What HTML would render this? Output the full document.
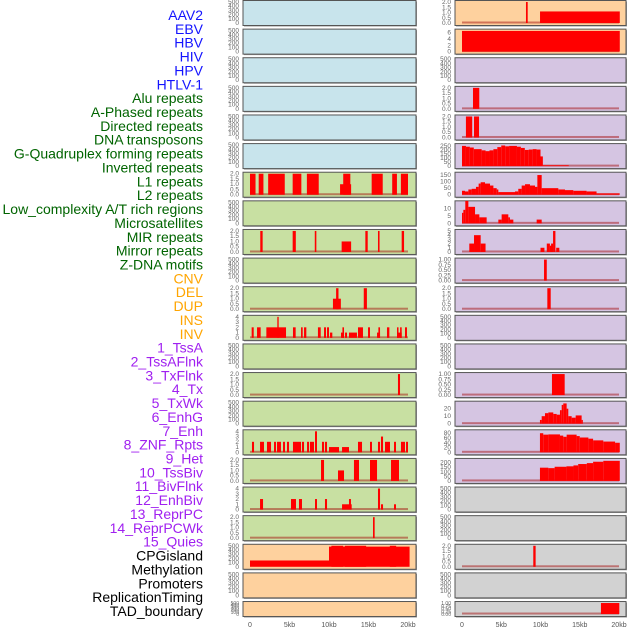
<!DOCTYPE html>
<html><head><meta charset="utf-8">
<style>
html,body{margin:0;padding:0;background:#fff;width:630px;height:630px;overflow:hidden}
svg{display:block}
</style></head>
<body>
<svg id="chart" width="630" height="630" xmlns="http://www.w3.org/2000/svg"></svg>
<script>
// ---- data ----
const trackLabels = ["AAV2","EBV","HBV","HIV","HPV","HTLV-1","Alu repeats","A-Phased repeats","Directed repeats","DNA transposons","G-Quadruplex forming repeats","Inverted repeats","L1 repeats","L2 repeats","Low_complexity A/T rich regions","Microsatellites","MIR repeats","Mirror repeats","Z-DNA motifs","CNV","DEL","DUP","INS","INV","1_TssA","2_TssAFlnk","3_TxFlnk","4_Tx","5_TxWk","6_EnhG","7_Enh","8_ZNF_Rpts","9_Het","10_TssBiv","11_BivFlnk","12_EnhBiv","13_ReprPC","14_ReprPCWk","15_Quies","CPGisland","Methylation","Promoters","ReplicationTiming","TAD_boundary"];
const labelGroups = ["virus","virus","virus","virus","virus","virus","repeat","repeat","repeat","repeat","repeat","repeat","repeat","repeat","repeat","repeat","repeat","repeat","repeat","sv","sv","sv","sv","sv","state","state","state","state","state","state","state","state","state","state","state","state","state","state","state","other","other","other","other","other"];
const xTickLabels = ["0","5kb","10kb","15kb","20kb"];
const xTickValues = [0,5,10,15,20];

// left column panels: background group, y max, tick values, bars [startKb,endKb,value]
const leftBg = ["blue","blue","blue","blue","blue","blue","green","green","green","green","green","green","green","green","green","green","green","green","green","orange","orange","orange"];
const leftYmax = [500,500,500,500,500,500,2,500,2,500,2,4,500,2,500,4,2,4,2,500,500,500];
const leftBars = [
 [],[],[],[],[],[],
 [[0,0.7,2],[1.1,1.7,2],[2.3,4.4,2],[5.4,6.5,2],[7.2,8.7,2],[11.4,12.8,1],[11.8,12.7,2],[15.4,16.8,2],[18,18.6,2],[19.1,20,2]],
 [],
 [[1.3,1.6,2],[5.4,5.8,2],[8.2,8.4,2],[11.6,12.8,1],[14.6,14.9,2],[16.2,16.4,2],[19.2,19.5,2]],
 [],
 [[10.5,11.5,1],[10.9,11.2,2],[14.4,14.8,2]],
 [[0.21,0.47,2],[0.89,1.35,2],[2.07,4.56,2],[3.46,3.63,4],[5.44,5.78,2],[6.46,6.67,2],[6.84,7.13,2],[8.6,8.95,2],[9.37,9.62,2],[9.75,10.0,2],[10.13,10.42,1],[11.52,11.9,1],[11.7,11.9,2],[12.03,12.28,1],[12.53,13.54,1],[13.67,14.3,2],[14.94,15.19,2],[16.08,16.46,1],[16.25,16.46,2],[17.34,17.64,2],[18.61,19.2,1],[18.61,18.8,2],[19.0,19.2,2],[19.62,19.87,2]],
 [],
 [[18.73,18.99,2]],
 [],
 [[0.25,0.51,2],[1.27,1.77,2],[2.15,2.66,2],[3.04,3.29,2],[3.42,3.92,2],[4.18,4.43,2],[4.68,4.94,2],[5.44,6.46,2],[6.58,6.84,2],[7.22,7.47,2],[7.59,8.1,2],[8.23,8.48,4],[9.11,9.37,2],[9.49,9.75,2],[10.0,11.27,1],[11.65,12.53,1],[13.67,14.18,2],[15.19,15.44,2],[16.2,16.46,2],[16.58,16.84,3],[17.09,17.34,2],[17.34,17.72,2],[18.23,18.48,2],[19.11,19.62,2],[19.75,20.0,2]],
 [[8.99,9.37,2],[11.14,11.9,1],[13.16,13.8,2],[15.19,16.08,2],[17.85,18.86,2]],
 [[1.27,1.65,2],[5.19,5.82,2],[6.2,6.58,2],[8.23,8.48,2],[9.49,9.75,2],[11.65,12.87,1],[12.53,12.78,2],[16.2,16.46,4],[16.58,16.84,1],[18.23,18.48,1]],
 [[15.57,15.78,2]],
 [[0,10,150],[10,20.2,480],[10.3,11.8,500],[12.0,14.7,500],[17.7,18.5,500]],
 [],[]
];

// right column panels
const rightBg = ["orange","orange","purple","purple","purple","purple","purple","purple","purple","purple","purple","purple","purple","purple","purple","purple","purple","gray","gray","gray","gray","gray"];
const rightYmax = [2,6.6,500,2,2,260,160,14,5,1,2,500,500,1,28,88,230,500,500,2,500,1];
const rightTickStep = [0.5,2,100,0.5,0.5,50,50,5,1,0.25,0.5,100,100,0.25,10,20,50,100,100,0.5,100,0.25];
const rightBars = [
 [[8.15,8.37,2],[9.94,20.1,1.1]],
 [[0,20.1,6.5]],
 [],
 [[1.4,2.2,2]],
 [[0.5,1.3,2],[1.53,2.17,2]],
 [[0,0.5,250],[0.5,1,240],[1,1.5,230],[1.5,2.5,210],[2.5,3,195],[3,3.5,185],[3.5,4,195],[4,4.5,210],[4.5,5,235],[5,5.5,255],[5.5,6,245],[6,7,250],[7,7.5,240],[7.5,8,225],[8,8.5,200],[8.5,9,205],[9,9.5,210],[9.5,10,205],[10,10.3,120],[10.3,13.6,10]],
 [[0,0.38,30],[0.38,0.81,25],[0.81,1.23,40],[1.23,1.78,45],[1.78,2.12,60],[2.12,2.38,85],[2.38,2.93,95],[2.93,3.57,85],[3.57,4.0,70],[4.0,4.42,50],[4.42,4.63,40],[4.63,6.75,20],[6.75,7.17,25],[7.17,7.6,45],[7.6,8.03,70],[8.03,8.66,80],[8.66,9.3,70],[9.3,9.6,60],[9.6,10.15,150],[10.15,12.27,50],[12.27,13.12,40],[13.12,14.18,35],[14.18,15.87,30],[15.87,17.14,25],[17.14,20.1,10]],
 [[0,0.17,7],[0.17,0.42,9],[0.42,0.81,15],[0.81,1.66,11],[1.66,2.21,6],[2.21,3.14,4],[4.63,5.05,2.5],[5.05,5.9,6],[5.9,6.11,4],[6.11,6.54,2.5],[9.51,10.15,2.5]],
 [[0.93,1.53,2],[1.53,2.38,4],[2.38,3.0,2],[10.0,10.5,1],[10.8,11.2,2],[11.2,11.6,1.5],[11.35,11.6,2],[11.6,11.9,5],[12.0,12.4,1]],
 [[10.45,10.8,1]],
 [[10.87,11.3,2]],
 [],[],
 [[11.46,13.08,1]],
 [[9.93,10.15,5],[10.15,10.57,10],[10.57,11.0,14],[11.0,11.63,15],[11.63,12.06,13],[12.06,12.48,12],[12.48,12.7,18],[12.7,12.9,25],[12.9,13.33,27],[13.33,13.54,20],[13.54,13.97,10],[13.97,14.48,8],[14.48,15.24,11],[15.24,15.37,5]],
 [[9.93,10.35,80],[10.35,11.0,74],[11.0,12.48,75],[12.48,12.9,70],[12.9,13.33,65],[13.33,14.6,74],[14.6,15.0,68],[15.0,16.1,62],[16.1,16.7,57],[16.7,18.0,50],[18.0,19.5,45],[19.5,20.1,40]],
 [[9.93,11.0,145],[11.0,11.8,140],[11.8,13.3,155],[13.3,14.2,160],[14.2,14.8,170],[14.8,15.9,185],[15.9,16.7,195],[16.7,18.0,210],[18.0,20.1,220]],
 [],[],
 [[9.08,9.38,2]],
 [],
 [[17.7,20.04,1]]
];
const leftTickStep = leftYmax.map(m => m===500?100:(m===4?1:0.5));

// ---- drawing ----
const NS = "http://www.w3.org/2000/svg";
const svg = document.getElementById("chart");
const colors = {blue:"#c8e4ec",green:"#c8e0a2",orange:"#fed19e",purple:"#d5c5e2",gray:"#d2d2d2"};
const labelColors = {virus:"#1414ff",repeat:"#006400",sv:"#ffa500",state:"#a020f0",other:"#000"};
function mk(tag, attrs, parent){ const e=document.createElementNS(NS,tag); for(const k in attrs) e.setAttribute(k,attrs[k]); (parent||svg).appendChild(e); return e; }

// labels
trackLabels.forEach((t,i)=>{
  const el = mk("text",{x:203,y:20+i*13.86,"text-anchor":"end","font-family":"Liberation Sans, sans-serif","font-size":"14",fill:labelColors[labelGroups[i]]});
  el.textContent = t;
  
  
});

const ROWS = 22, STEP = 28.62;
function drawPanel(colLeft, colRight, kbX0, kbScale, r, bg, ymax, tickStep, bars){
  const top = r*STEP + 0.5;
  const h = r===ROWS-1 ? 15 : 25;
  const g = mk("g",{});
  
  
  mk("rect",{x:colLeft+1,y:top+1,width:colRight-colLeft,height:h,fill:"#999"},g);
  const frame = mk("rect",{x:colLeft,y:top,width:colRight-colLeft,height:h,fill:colors[bg],stroke:"#555","stroke-width":1},g);
  
  
  const y0 = top + h - 2.5, y1 = top + 1.5;
  const ys = v => y0 - (v/ymax)*(y0-y1);
  const xs = kb => kbX0 + kb*kbScale;
  // ticks
  const n = Math.round(ymax/tickStep);
  for(let k=0;k<=n;k++){
    const v = k*tickStep; if(v>ymax+1e-9) break;
    const lab = tickStep<1 ? (tickStep===0.25? v.toFixed(2): v.toFixed(1)) : String(v);
    const tx = mk("text",{x:colLeft-4,y:ys(v)+2,"text-anchor":"end","font-family":"Liberation Sans, sans-serif","font-size":h<20?"5":"6.5",fill:"#666"},g);
    tx.textContent = lab;
    
    
  }
  if(ymax!==500){
    const bl = mk("rect",{x:xs(0),y:y0-1.5,width:xs(20)-xs(0),height:2,fill:"rgba(160,0,0,0.45)"},g);
    
    
  }
  bars.forEach(b=>{
    const yt = ys(b[2]);
    const rc = mk("rect",{x:xs(b[0]),y:yt,width:Math.max(1.2,xs(b[1])-xs(b[0])),height:y0-yt,fill:"#ff0000"},g);
    
    
  });
}
for(let r=0;r<ROWS;r++){
  drawPanel(243,416,250,7.9,r,leftBg[r],leftYmax[r],leftTickStep[r],leftBars[r]);
  drawPanel(455,626,462,7.85,r,rightBg[r],rightYmax[r],rightTickStep[r],rightBars[r]);
}
// x axes
[[250,7.9],[462,7.85]].forEach(a=>{
  xTickValues.forEach((v,i)=>{
    const t = mk("text",{x:a[0]+v*a[1],y:627,"text-anchor":"middle","font-family":"Liberation Sans, sans-serif","font-size":"7",fill:"#555"});
    t.textContent = xTickLabels[i];
    
    
  });
});
</script>
</body></html>
